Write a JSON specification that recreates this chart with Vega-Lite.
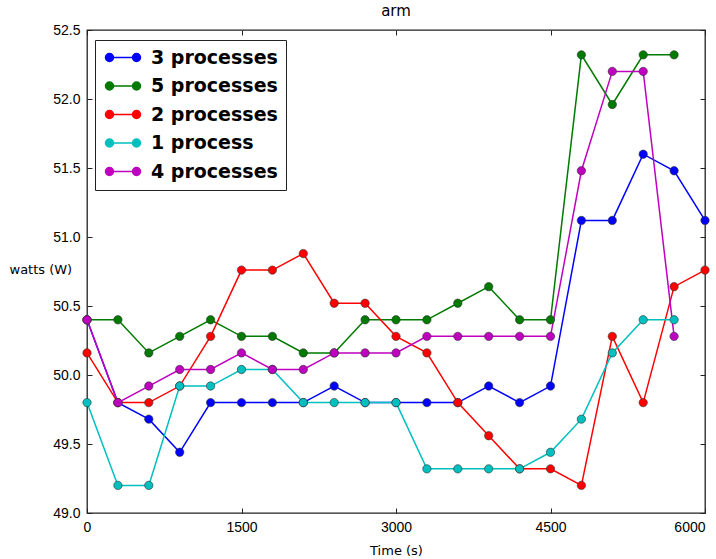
{
  "$schema": "https://vega.github.io/schema/vega-lite/v6.json",
  "autosize": {"type": "none"},
  "padding": {"left": 87, "top": 30, "right": 11, "bottom": 46},
  "width": 618,
  "height": 483,
  "title": {"text": "arm", "font": "DejaVu Sans", "fontSize": 15, "fontWeight": "normal", "color": "black", "offset": 4},
  "config": {
    "view": {"stroke": "#222222", "strokeWidth": 1.3},
    "axis": {"grid": false, "domain": false, "tickColor": "#222222", "tickSize": -5, "labelColor": "black", "labelFont": "Liberation Sans", "labelFontSize": 14, "titleFont": "DejaVu Sans", "titleFontSize": 13, "titleFontWeight": "normal", "titleColor": "black"}
  },
  "datasets": {
    "d": [
      {"t":0,"w":50.4,"s":"3 processes"},{"t":300,"w":49.8,"s":"3 processes"},{"t":600,"w":49.68,"s":"3 processes"},{"t":900,"w":49.44,"s":"3 processes"},{"t":1200,"w":49.8,"s":"3 processes"},{"t":1500,"w":49.8,"s":"3 processes"},{"t":1800,"w":49.8,"s":"3 processes"},{"t":2100,"w":49.8,"s":"3 processes"},{"t":2400,"w":49.92,"s":"3 processes"},{"t":2700,"w":49.8,"s":"3 processes"},{"t":3000,"w":49.8,"s":"3 processes"},{"t":3300,"w":49.8,"s":"3 processes"},{"t":3600,"w":49.8,"s":"3 processes"},{"t":3900,"w":49.92,"s":"3 processes"},{"t":4200,"w":49.8,"s":"3 processes"},{"t":4500,"w":49.92,"s":"3 processes"},{"t":4800,"w":51.12,"s":"3 processes"},{"t":5100,"w":51.12,"s":"3 processes"},{"t":5400,"w":51.6,"s":"3 processes"},{"t":5700,"w":51.48,"s":"3 processes"},{"t":6000,"w":51.12,"s":"3 processes"},
      {"t":0,"w":50.4,"s":"5 processes"},{"t":300,"w":50.4,"s":"5 processes"},{"t":600,"w":50.16,"s":"5 processes"},{"t":900,"w":50.28,"s":"5 processes"},{"t":1200,"w":50.4,"s":"5 processes"},{"t":1500,"w":50.28,"s":"5 processes"},{"t":1800,"w":50.28,"s":"5 processes"},{"t":2100,"w":50.16,"s":"5 processes"},{"t":2400,"w":50.16,"s":"5 processes"},{"t":2700,"w":50.4,"s":"5 processes"},{"t":3000,"w":50.4,"s":"5 processes"},{"t":3300,"w":50.4,"s":"5 processes"},{"t":3600,"w":50.52,"s":"5 processes"},{"t":3900,"w":50.64,"s":"5 processes"},{"t":4200,"w":50.4,"s":"5 processes"},{"t":4500,"w":50.4,"s":"5 processes"},{"t":4800,"w":52.32,"s":"5 processes"},{"t":5100,"w":51.96,"s":"5 processes"},{"t":5400,"w":52.32,"s":"5 processes"},{"t":5700,"w":52.32,"s":"5 processes"},
      {"t":0,"w":50.16,"s":"2 processes"},{"t":300,"w":49.8,"s":"2 processes"},{"t":600,"w":49.8,"s":"2 processes"},{"t":900,"w":49.92,"s":"2 processes"},{"t":1200,"w":50.28,"s":"2 processes"},{"t":1500,"w":50.76,"s":"2 processes"},{"t":1800,"w":50.76,"s":"2 processes"},{"t":2100,"w":50.88,"s":"2 processes"},{"t":2400,"w":50.52,"s":"2 processes"},{"t":2700,"w":50.52,"s":"2 processes"},{"t":3000,"w":50.28,"s":"2 processes"},{"t":3300,"w":50.16,"s":"2 processes"},{"t":3600,"w":49.8,"s":"2 processes"},{"t":3900,"w":49.56,"s":"2 processes"},{"t":4200,"w":49.32,"s":"2 processes"},{"t":4500,"w":49.32,"s":"2 processes"},{"t":4800,"w":49.2,"s":"2 processes"},{"t":5100,"w":50.28,"s":"2 processes"},{"t":5400,"w":49.8,"s":"2 processes"},{"t":5700,"w":50.64,"s":"2 processes"},{"t":6000,"w":50.76,"s":"2 processes"},
      {"t":0,"w":49.8,"s":"1 process"},{"t":300,"w":49.2,"s":"1 process"},{"t":600,"w":49.2,"s":"1 process"},{"t":900,"w":49.92,"s":"1 process"},{"t":1200,"w":49.92,"s":"1 process"},{"t":1500,"w":50.04,"s":"1 process"},{"t":1800,"w":50.04,"s":"1 process"},{"t":2100,"w":49.8,"s":"1 process"},{"t":2400,"w":49.8,"s":"1 process"},{"t":2700,"w":49.8,"s":"1 process"},{"t":3000,"w":49.8,"s":"1 process"},{"t":3300,"w":49.32,"s":"1 process"},{"t":3600,"w":49.32,"s":"1 process"},{"t":3900,"w":49.32,"s":"1 process"},{"t":4200,"w":49.32,"s":"1 process"},{"t":4500,"w":49.44,"s":"1 process"},{"t":4800,"w":49.68,"s":"1 process"},{"t":5100,"w":50.16,"s":"1 process"},{"t":5400,"w":50.4,"s":"1 process"},{"t":5700,"w":50.4,"s":"1 process"},
      {"t":0,"w":50.4,"s":"4 processes"},{"t":300,"w":49.8,"s":"4 processes"},{"t":600,"w":49.92,"s":"4 processes"},{"t":900,"w":50.04,"s":"4 processes"},{"t":1200,"w":50.04,"s":"4 processes"},{"t":1500,"w":50.16,"s":"4 processes"},{"t":1800,"w":50.04,"s":"4 processes"},{"t":2100,"w":50.04,"s":"4 processes"},{"t":2400,"w":50.16,"s":"4 processes"},{"t":2700,"w":50.16,"s":"4 processes"},{"t":3000,"w":50.16,"s":"4 processes"},{"t":3300,"w":50.28,"s":"4 processes"},{"t":3600,"w":50.28,"s":"4 processes"},{"t":3900,"w":50.28,"s":"4 processes"},{"t":4200,"w":50.28,"s":"4 processes"},{"t":4500,"w":50.28,"s":"4 processes"},{"t":4800,"w":51.48,"s":"4 processes"},{"t":5100,"w":52.2,"s":"4 processes"},{"t":5400,"w":52.2,"s":"4 processes"},{"t":5700,"w":50.28,"s":"4 processes"}
    ]
  },
  "data": {"name": "d"},
  "resolve": {"axis": {"x": "independent", "y": "independent"}},
  "encoding": {
    "color": {"field": "s", "type": "nominal",
      "scale": {"domain": ["3 processes", "5 processes", "2 processes", "1 process", "4 processes"], "range": ["#0000ff", "#007a00", "#ff0000", "#00bfbf", "#bf00bf"]},
      "legend": {"title": null, "orient": "none", "legendX": 8, "legendY": 10, "padding": 8, "strokeColor": "#222222", "fillColor": "white",
        "symbolType": "M-0.43,0L3.43,0M-1,0A0.57,0.57,0,1,1,0.14,0A0.57,0.57,0,1,1,-1,0M2.86,0A0.57,0.57,0,1,1,4,0A0.57,0.57,0,1,1,2.86,0",
        "symbolSize": 196, "symbolStrokeWidth": 1.5, "labelOffset": 29, "labelFont": "DejaVu Sans", "labelFontSize": 19, "labelFontWeight": "bold", "labelColor": "black", "rowPadding": 8.5, "labelLimit": 0}}
  },
  "layer": [
    {"mark": {"type": "line", "strokeWidth": 1.5},
     "encoding": {
      "x": {"field": "t", "type": "quantitative", "scale": {"domain": [0, 6000], "nice": false, "zero": false},
        "axis": {"orient": "bottom", "values": [0, 1500, 3000, 4500, 6000], "format": "d", "title": "Time (s)", "labelPadding": 12, "labelFlush": false,
          "labelAlign": {"expr": "datum.value == 6000 ? 'right' : 'center'"}, "labelDx": {"expr": "datum.value == 6000 ? 11 : 0"},
          "titleY": 37, "titleBaseline": "middle"}},
      "y": {"field": "w", "type": "quantitative", "scale": {"domain": [49, 52.5], "nice": false, "zero": false},
        "axis": {"orient": "left", "values": [49, 49.5, 50, 50.5, 51, 51.5, 52, 52.5], "format": ".1f", "title": "watts (W)", "labelPadding": 12, "titleAngle": 0, "titleAlign": "left", "titleBaseline": "middle", "titleX": -78, "titleY": 239}}
     }},
    {"mark": {"type": "point", "filled": true, "shape": "circle", "size": 70, "opacity": 1, "stroke": "#333333", "strokeWidth": 0.6},
     "encoding": {
      "x": {"field": "t", "type": "quantitative", "scale": {"domain": [0, 6000], "nice": false, "zero": false},
        "axis": {"orient": "top", "values": [0, 1500, 3000, 4500, 6000], "labels": false, "title": null}},
      "y": {"field": "w", "type": "quantitative", "scale": {"domain": [49, 52.5], "nice": false, "zero": false},
        "axis": {"orient": "right", "values": [49, 49.5, 50, 50.5, 51, 51.5, 52, 52.5], "labels": false, "title": null}}
     }}
  ]
}
